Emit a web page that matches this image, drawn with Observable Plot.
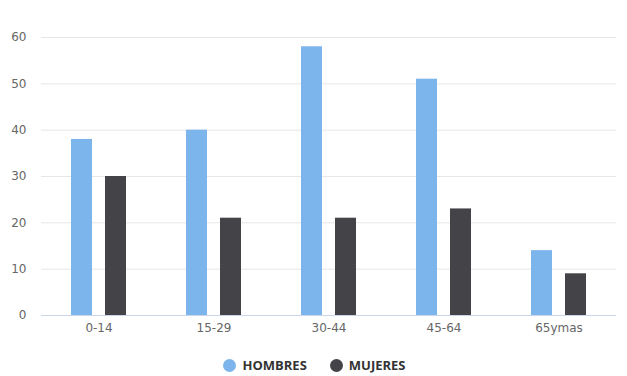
<!DOCTYPE html>
<html>
<head>
<meta charset="utf-8">
<script src="https://cdn.jsdelivr.net/npm/d3@7"></script>
<script src="https://cdn.jsdelivr.net/npm/@observablehq/plot@0.6"></script>
<style>
  html, body { margin: 0; padding: 0; background: #fff; }
  body { width: 627px; height: 376px; overflow: hidden; font-family: "DejaVu Sans", sans-serif; }
  #legend { display: flex; justify-content: center; gap: 23px; margin-top: 16px; margin-left: 2px;
    font-family: "Open Sans", sans-serif; font-weight: bold; font-size: 13px; color: #333; }
  .item { display: flex; align-items: center; gap: 6px; }
  .dot { width: 13px; height: 13px; border-radius: 50%; display: inline-block; }
</style>
</head>
<body>
<div id="chart"></div>
<div id="legend"></div>
<script>
const categories = ["0-14", "15-29", "30-44", "45-64", "65ymas"];
const seriesNames = ["HOMBRES", "MUJERES"];
const hombres = [38, 40, 58, 51, 14];
const mujeres = [30, 21, 21, 23, 9];
const colors = ["#7cb5ec", "#434348"];
const yTicks = [0, 10, 20, 30, 40, 50, 60];

const data = [];
categories.forEach((c, i) => {
  data.push({cat: c, serie: seriesNames[0], value: hombres[i]});
  data.push({cat: c, serie: seriesNames[1], value: mujeres[i]});
});

const chart = Plot.plot({
  width: 627,
  height: 340,
  marginLeft: 41,
  marginRight: 11,
  marginTop: 37,
  marginBottom: 25,
  style: {fontFamily: "DejaVu Sans, sans-serif", fontSize: "12px", color: "#666", background: "#fff"},
  fx: {domain: categories, paddingInner: 0, paddingOuter: 0, label: null, axis: "bottom", tickSize: 0, tickPadding: 8},
  x: {domain: seriesNames, axis: null, paddingInner: 0.382, paddingOuter: 0.882},
  y: {domain: [0, 60], axis: null},
  color: {domain: seriesNames, range: colors},
  marks: [
    Plot.ruleY(yTicks.filter(d => d > 0), {stroke: "#e6e6e6", strokeWidth: 1}),
    Plot.barY(data, {fx: "cat", x: "serie", y: "value", fill: "serie"}),
    Plot.ruleY([0], {stroke: "#ccd6eb", strokeWidth: 1}),
    Plot.text(yTicks, {
      fx: () => categories[0],
      y: d => d, text: d => String(d),
      frameAnchor: "left", textAnchor: "end", dx: -15, fill: "#666", fontSize: 12
    })
  ]
});
document.getElementById("chart").appendChild(chart);

const legend = document.getElementById("legend");
seriesNames.forEach((s, i) => {
  const it = document.createElement("span");
  it.className = "item";
  const dot = document.createElement("span");
  dot.className = "dot";
  dot.style.background = colors[i];
  const lab = document.createElement("span");
  lab.textContent = s;
  it.appendChild(dot);
  it.appendChild(lab);
  legend.appendChild(it);
});
</script>
</body>
</html>
